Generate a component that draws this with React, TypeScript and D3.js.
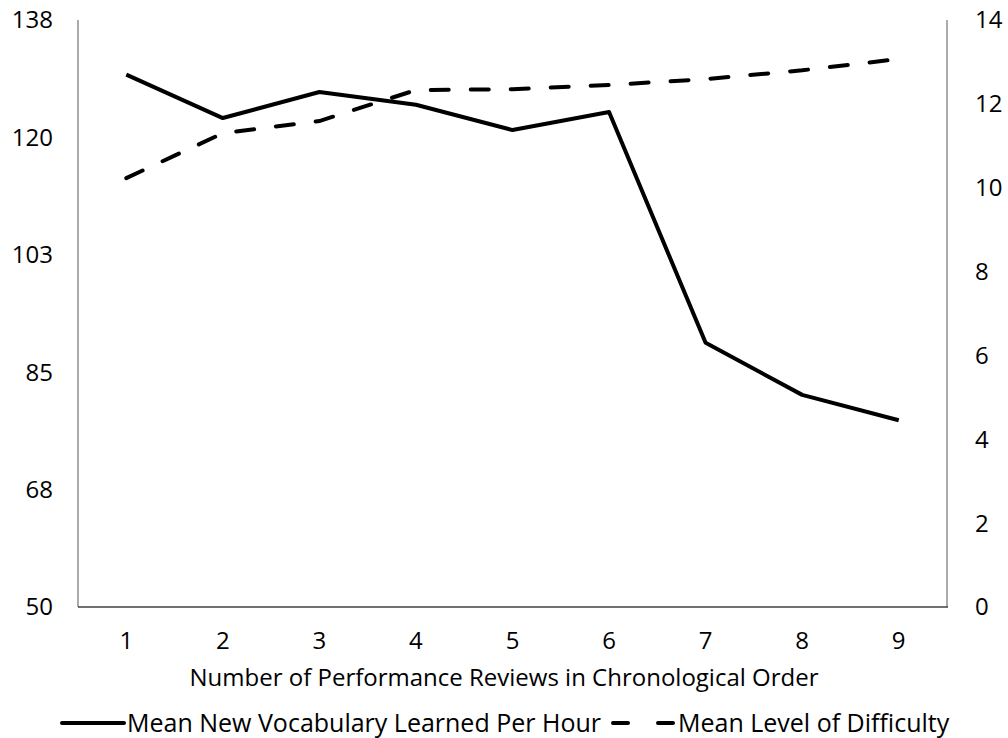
import React, { useEffect, useRef } from 'react'
import * as d3 from 'd3'

const reviews = [1, 2, 3, 4, 5, 6, 7, 8, 9]
const vocabPerHour = [129.8, 123.3, 127.2, 125.3, 121.5, 124.2, 89.6, 81.8, 78.0]
const difficulty = [10.23, 11.3, 11.59, 12.33, 12.35, 12.45, 12.59, 12.8, 13.07]
const leftTicks = [50, 67.6, 85.2, 102.8, 120.4, 138]
const rightTicks = [0, 2, 4, 6, 8, 10, 12, 14]
const xTitle = 'Number of Performance Reviews in Chronological Order'
const legendLabels = ['Mean New Vocabulary Learned Per Hour', 'Mean Level of Difficulty']

const App = () => {
  const ref = useRef<SVGSVGElement>(null)

  useEffect(() => {
    const svg = d3.select(ref.current)
    svg.selectAll('*').remove()

    const width = 1008
    const height = 738
    const left = 78
    const right = 947
    const top = 20
    const bottom = 607
    const font = 'Open Sans, sans-serif'
    const size = '24px'

    const x = d3.scaleBand<number>().domain(reviews).range([left, right])
    const cx = (d: number) => (x(d) as number) + x.bandwidth() / 2
    const yLeft = d3.scaleLinear().domain([50, 138]).range([bottom, top])
    const yRight = d3.scaleLinear().domain([0, 14]).range([bottom, top])

    svg.attr('width', width).attr('height', height)

    // axis lines
    svg.append('line').attr('x1', left).attr('x2', left).attr('y1', top).attr('y2', bottom)
      .attr('stroke', '#7f7f7f').attr('stroke-width', 1.3)
    svg.append('line').attr('x1', right).attr('x2', right).attr('y1', top).attr('y2', bottom)
      .attr('stroke', '#7f7f7f').attr('stroke-width', 1.3)
    svg.append('line').attr('x1', left).attr('x2', right + 1).attr('y1', bottom).attr('y2', bottom)
      .attr('stroke', '#404040').attr('stroke-width', 1.5)

    const fmt = d3.format('.0f')
    svg.selectAll('text.yl').data(leftTicks).enter().append('text')
      .attr('class', 'yl')
      .attr('x', 53).attr('y', d => yLeft(d)).attr('dy', '0.35em')
      .attr('text-anchor', 'end')
      .style('font-family', font).style('font-size', size).attr('fill', '#000')
      .text(d => fmt(d))

    svg.selectAll('text.yr').data(rightTicks).enter().append('text')
      .attr('class', 'yr')
      .attr('x', 975).attr('y', d => yRight(d)).attr('dy', '0.35em')
      .style('font-family', font).style('font-size', size).attr('fill', '#000')
      .text(d => d)

    svg.selectAll('text.xt').data(reviews).enter().append('text')
      .attr('class', 'xt')
      .attr('x', d => cx(d)).attr('y', 641).attr('dy', '0.35em')
      .attr('text-anchor', 'middle')
      .style('font-family', font).style('font-size', size).attr('fill', '#000')
      .text(d => d)

    svg.append('text')
      .attr('x', 504).attr('y', 678).attr('dy', '0.35em')
      .attr('text-anchor', 'middle')
      .style('font-family', font).style('font-size', size).attr('fill', '#000')
      .text(xTitle)

    // lines
    const solid = d3.line<number>().x((d, i) => cx(reviews[i])).y(d => yLeft(d))
    const dashed = d3.line<number>().x((d, i) => cx(reviews[i])).y(d => yRight(d))

    svg.append('path').attr('d', solid(vocabPerHour) as string)
      .attr('fill', 'none').attr('stroke', '#000').attr('stroke-width', 4)
      .attr('stroke-linejoin', 'round')

    svg.append('path').attr('d', dashed(difficulty) as string)
      .attr('fill', 'none').attr('stroke', '#000').attr('stroke-width', 4)
      .attr('stroke-dasharray', '18 22').attr('stroke-linecap', 'round')

    // legend
    const ly = 723
    svg.append('line').attr('x1', 62).attr('x2', 124).attr('y1', ly).attr('y2', ly)
      .attr('stroke', '#000').attr('stroke-width', 4).attr('stroke-linecap', 'round')
    svg.append('text').attr('x', 127).attr('y', ly).attr('dy', '0.35em')
      .style('font-family', font).style('font-size', '25px').attr('fill', '#000')
      .text(legendLabels[0])
    svg.append('line').attr('x1', 613).attr('x2', 676).attr('y1', ly).attr('y2', ly)
      .attr('stroke', '#000').attr('stroke-width', 4).attr('stroke-linecap', 'round')
      .attr('stroke-dasharray', '15 30')
    svg.append('text').attr('x', 678).attr('y', ly).attr('dy', '0.35em')
      .style('font-family', font).style('font-size', '25px').attr('fill', '#000')
      .text(legendLabels[1])
  }, [])

  return (
    <svg
      ref={ref}
      style={{ position: 'absolute', left: 0, top: 0, background: '#fff' }}
    />
  )
}

export default App
